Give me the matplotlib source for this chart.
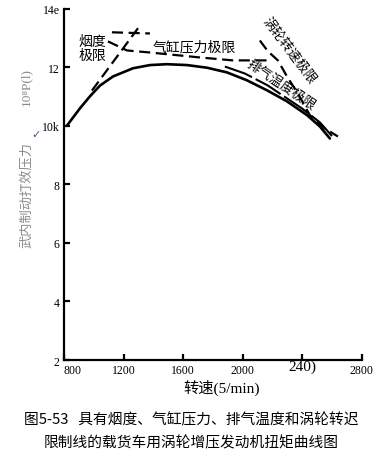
import matplotlib
matplotlib.use("Agg")
import matplotlib.pyplot as plt

plt.rcParams['font.family'] = ['Noto Sans CJK SC', 'DejaVu Sans']

# torque curve (mean effective pressure) vs engine speed
rpm_torque = [820, 907, 974, 1042, 1129, 1263, 1377, 1491, 1626, 1760, 1894, 2028, 2162, 2297, 2431, 2518, 2585]
bmep_torque = [10.01, 10.60, 11.01, 11.38, 11.69, 11.97, 12.08, 12.11, 12.08, 11.99, 11.83, 11.56, 11.22, 10.84, 10.37, 9.98, 9.57]

# limit lines
rpm_smoke = [988, 1297]
bmep_smoke = [11.21, 13.34]
rpm_smoke_top = [1122, 1377]
bmep_smoke_top = [13.20, 13.16]
rpm_cyl = [1095, 1223, 1377, 1713, 1934, 2196]
bmep_cyl = [12.89, 12.58, 12.51, 12.34, 12.24, 12.24]
rpm_exh = [1880, 2015, 2169, 2397, 2518, 2605]
bmep_exh = [12.03, 11.79, 11.38, 10.60, 10.12, 9.62]
rpm_turbo = [2115, 2169, 2236, 2297, 2370, 2451, 2552, 2639]
bmep_turbo = [12.92, 12.55, 12.24, 11.69, 11.11, 10.36, 9.91, 9.64]

x_ticks = [800, 1200, 1600, 2000, 2400, 2800]
x_labels = ['800', '1200', '1600', '2000', '240)', '2800']
y_ticks = [2, 4, 6, 8, 10, 12, 14]
y_labels = ['2', '4', '6', '8', '10k', '12', '14e']

fig = plt.figure(figsize=(3.83, 4.56), dpi=100)
ax = fig.add_axes([0.167, 0.2083, 0.778, 0.770])

ax.plot(rpm_torque, bmep_torque, color='black', lw=1.9, solid_capstyle='round')
dash = dict(color='black', lw=1.6, dashes=(5, 2.5))
ax.plot(rpm_smoke, bmep_smoke, **dash)
ax.plot(rpm_smoke_top, bmep_smoke_top, **dash)
ax.plot(rpm_cyl, bmep_cyl, **dash)
ax.plot(rpm_exh, bmep_exh, color='black', lw=1.5, dashes=(14, 2))
ax.plot(rpm_turbo, bmep_turbo, **dash)

ax.set_xlim(800, 2800)
ax.set_ylim(2, 14)
for s in ['top', 'right']:
    ax.spines[s].set_visible(False)
for s in ['left', 'bottom']:
    ax.spines[s].set_linewidth(1.6)

serif = ['Liberation Serif', 'DejaVu Serif']
ax.set_xticks(x_ticks)
ax.set_xticklabels(x_labels, family=serif, fontsize=8.5)
ax.set_yticks(y_ticks)
ax.set_yticklabels(y_labels, family=serif, fontsize=8.5)
ax.tick_params(direction='in', length=4, width=1.6, pad=3)
xl = ax.get_xticklabels()
xl[0].set_horizontalalignment('left')
xl[4].set_fontsize(11)
xl[4].set_y(0.012)

# axis titles
fig.text(222 / 383, 1 - 388 / 456, '转速(5/min)', family=['Liberation Serif', 'Noto Sans CJK SC'],
         fontsize=11, ha='center', va='center')
fig.text(26 / 383, 1 - 195 / 456, '武内制动打效压力', fontsize=9.5, color='#8a8a8a',
         rotation=90, ha='center', va='center')
fig.text(26 / 383, 1 - 87 / 456, '10⁸P(l)', family=serif, fontsize=9.5, color='#8a8a8a',
         rotation=90, ha='center', va='center')
fig.text(36 / 383, 1 - 135 / 456, '✓', family=['DejaVu Sans'], fontsize=8, color='#4a5578',
         ha='center', va='center')

# curve annotations
ax.text(990, 12.66, '烟度\n极限', fontsize=10, ha='center', va='center', linespacing=0.95)
ax.text(1672, 12.72, '气缸压力极限', fontsize=10, ha='center', va='center')
ax.text(2256, 11.42, '排气温度极限', fontsize=9.5, ha='center', va='center', rotation=-34)
ax.text(2310, 12.60, '涡轮转速极限', fontsize=9.5, ha='center', va='center', rotation=-53)

fig.text(0.5, 1 - 420 / 456, '图5-53   具有烟度、气缸压力、排气温度和涡轮转迟', ha='center', va='center', fontsize=10.6)
fig.text(0.5, 1 - 443 / 456, '限制线的载货车用涡轮增压发动机扭矩曲线图', ha='center', va='center', fontsize=10.6)

fig.savefig('out.png', dpi=100, facecolor='white')
